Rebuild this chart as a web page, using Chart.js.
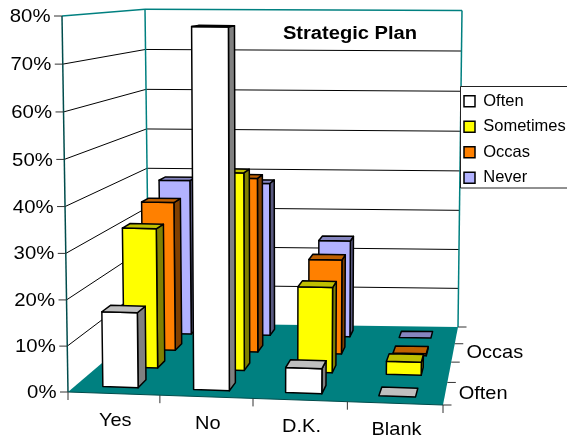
<!DOCTYPE html>
<html>
<head>
<meta charset="utf-8">
<style>html,body{margin:0;padding:0;background:#fff}canvas{display:block}</style>
<script src="https://cdn.jsdelivr.net/npm/chart.js@4/dist/chart.umd.min.js"></script>
</head>
<body>
<canvas id="c" width="567" height="440"></canvas>
<script>
// Responses to the "Strategic Plan" question, percent per answer and frequency.
const answers = ['Yes', 'No', 'D.K.', 'Blank'];
const frequencies = ['Often', 'Sometimes', 'Occas', 'Never'];
const often = [16.5, 78, 5.5, 0];
const sometimes = [32, 45, 19.5, 3];
const occas = [35.5, 41.5, 22.5, 0.5];
const never = [38.5, 38, 24, 0];
const seriesValues = [often, sometimes, occas, never];

const chartTitle = 'Strategic Plan';
const FONT = '"Liberation Sans", Arial, sans-serif';
const TEAL = '#008080';

// Face shades per series: front, top, right side.
const shades = [
  ['#ffffff', '#bfbfbf', '#808080'],
  ['#ffff00', '#bfbf00', '#808000'],
  ['#ff8000', '#bf6000', '#804000'],
  ['#b2b2ff', '#8585bf', '#595980']
];
const BAR_FRACTION = 0.39;

// Floor corners in canvas pixels: front-left, front-right, back-right, back-left.
const floorCorners = [[68, 392], [443, 405], [458, 327], [149, 323]];
// Screen offset from floor to the 80% level above each floor corner.
const riseAtCorner = [[-6, -376], [6, -384], [4, -316.5], [-4, -313.7]];
const DEPTH_WEIGHT = 1.22;
const WIDTH_WEIGHT = 1.027;
const HEIGHT_PERSPECTIVE = -0.027;

function lerp(a, b, t) { return a + (b - a) * t; }

// u runs along the answers, d into the depth, z up the value axis; all are 0..1.
function project(u, d, z) {
  const t = z * (1 + HEIGHT_PERSPECTIVE) / (1 + HEIGHT_PERSPECTIVE * z);
  const back = (1 - 1 / (1 + (DEPTH_WEIGHT - 1) * d)) / (1 - 1 / DEPTH_WEIGHT);
  const along = u / (u + (1 - u) * WIDTH_WEIGHT);
  const [fl, fr, br, bl] = floorCorners;
  const [rfl, rfr, rbr, rbl] = riseAtCorner;
  return [0, 1].map(k => {
    const base = lerp(lerp(fl[k], fr[k], along), lerp(bl[k], br[k], along), back);
    const rise = lerp(lerp(rfl[k], rfr[k], along), lerp(rbl[k], rbr[k], along), back);
    return base + rise * t;
  });
}

function poly(ctx, pts, fill, stroke, lw) {
  ctx.beginPath();
  pts.forEach((p, i) => i ? ctx.lineTo(p[0], p[1]) : ctx.moveTo(p[0], p[1]));
  ctx.closePath();
  if (fill) { ctx.fillStyle = fill; ctx.fill(); }
  if (stroke) { ctx.strokeStyle = stroke; ctx.lineWidth = lw; ctx.stroke(); }
}
function line(ctx, a, b, color, lw) {
  ctx.beginPath();
  ctx.moveTo(a[0], a[1]);
  ctx.lineTo(b[0], b[1]);
  ctx.strokeStyle = color;
  ctx.lineWidth = lw;
  ctx.stroke();
}
function label(ctx, text, x, y, font, align, stretch) {
  ctx.save();
  ctx.translate(x, y);
  ctx.scale(stretch, 1);
  ctx.font = font;
  ctx.fillStyle = '#000';
  ctx.textAlign = align;
  ctx.textBaseline = 'middle';
  ctx.fillText(text, 0, 0);
  ctx.restore();
}

const box3d = {
  id: 'box3d',
  // The legend sits over the right wall, in its own framed box.
  afterLayout(chart) {
    const l = chart.legend;
    l.left = 455; l.top = 84; l.right = 567; l.bottom = 195;
    l.width = l.right - l.left; l.height = l.bottom - l.top;
  },
  beforeDatasetsDraw(chart) {
    const { ctx, chartArea: area, scales } = chart;
    const { x: xs, y: ys, depth } = scales;
    const U = px => (px - area.left) / area.width;
    const Z = px => (area.bottom - px) / area.height;
    const D = px => (px - area.top) / area.height;
    const cellU = 1 / answers.length, cellD = 1 / frequencies.length;

    ctx.save();
    ctx.lineJoin = 'round';

    // Floor
    poly(ctx, [project(0, 0, 0), project(1, 0, 0), project(1, 1, 0), project(0, 1, 0)], TEAL);

    // Gridlines across the left and back walls
    ys.ticks.forEach(t => {
      const z = Z(ys.getPixelForValue(t.value));
      if (z > 0 && z < 1) {
        line(ctx, project(0, 0, z), project(0, 1, z), '#000', 1);
        line(ctx, project(0, 1, z), project(1, 1, z), '#000', 1);
      }
    });

    // Wall edges
    line(ctx, project(0, 0, 1), project(0, 1, 1), TEAL, 1.5);
    line(ctx, project(0, 1, 1), project(1, 1, 1), TEAL, 1.5);
    line(ctx, project(0, 1, 0), project(0, 1, 1), TEAL, 1.5);
    line(ctx, project(1, 1, 0), project(1, 1, 1), TEAL, 1.5);
    line(ctx, project(0, 0, 0), project(0, 0, 1), '#004c4c', 1.5);
    line(ctx, project(0, 0, 0), project(1, 0, 0), '#004c4c', 1.2);

    // Value axis ticks and labels
    ys.ticks.forEach(t => {
      const p = project(0, 0, Z(ys.getPixelForValue(t.value)));
      line(ctx, [p[0] - 8, p[1]], p, '#333', 1);
      label(ctx, t.label, p[0] - 11.5, p[1] + 1, '18.5px ' + FONT, 'right', 1.1);
    });

    // Answer axis ticks and labels
    for (let i = 0; i <= answers.length; i++) {
      const p = project(i * cellU, 0, 0);
      line(ctx, p, [p[0], p[1] + 8], '#333', 1);
    }
    xs.ticks.forEach((t, i) => {
      const p = project(U(xs.getPixelForValue(i)), 0, 0);
      label(ctx, t.label, p[0] + 1.5, p[1] + 27, '18.5px ' + FONT, 'center', 1.08);
    });

    // Depth axis ticks, with every other frequency named
    for (let i = 0; i <= frequencies.length; i++) {
      const p = project(1, i * cellD, 0);
      line(ctx, p, [p[0] + 8.5, p[1]], '#333', 1);
    }
    depth.ticks.forEach((t, i) => {
      if (i % 2) return;
      const p = project(1, D(depth.getPixelForValue(i)), 0);
      label(ctx, t.label, p[0] + 13.5, p[1], '18.5px ' + FONT, 'left', 1.08);
    });

    // Bars, back row first so the nearer rows overlap them
    for (let s = seriesValues.length - 1; s >= 0; s--) {
      const [front, top, side] = shades[s];
      const dc = D(depth.getPixelForValue(s));
      chart.getDatasetMeta(s).data.forEach(bar => {
        const halfU = bar.width / 2 / area.width;
        const halfD = BAR_FRACTION * cellD / 2;
        const uc = U(bar.x), z = Z(bar.y);
        const u0 = uc - halfU, u1 = uc + halfU, d0 = dc - halfD, d1 = dc + halfD;
        if (z > 0) {
          poly(ctx, [project(u1, d0, 0), project(u1, d1, 0), project(u1, d1, z), project(u1, d0, z)], side, '#000', 1.5);
          poly(ctx, [project(u0, d0, 0), project(u1, d0, 0), project(u1, d0, z), project(u0, d0, z)], front, '#000', 1.5);
        }
        poly(ctx, [project(u0, d0, z), project(u1, d0, z), project(u1, d1, z), project(u0, d1, z)], top, '#000', 1.5);
      });
    }

    label(ctx, chartTitle, 350, 34, 'bold 17.5px ' + FONT, 'center', 1.15);

    // Legend frame, then the legend's own entries over it
    ctx.fillStyle = '#fff';
    ctx.fillRect(460.5, 86.5, 107, 101.5);
    ctx.strokeStyle = '#222';
    ctx.lineWidth = 1;
    ctx.strokeRect(460.5, 86.5, 107, 101.5);
    ctx.restore();
    chart.legend.draw();
    return false;
  }
};

new Chart(document.getElementById('c'), {
  type: 'bar',
  data: {
    labels: answers,
    datasets: frequencies.map((name, i) => ({
      label: name,
      data: seriesValues[i],
      backgroundColor: shades[i][0],
      borderColor: '#000',
      borderWidth: 1.5
    }))
  },
  options: {
    responsive: false,
    animation: false,
    events: [],
    layout: { padding: { left: 68, right: 124, top: 16, bottom: 48 } },
    datasets: { bar: { grouped: false, categoryPercentage: 1, barPercentage: BAR_FRACTION } },
    scales: {
      x: { display: false, offset: true },
      y: {
        display: false, min: 0, max: 80,
        ticks: { stepSize: 10, callback: v => v + '%' }
      },
      depth: {
        type: 'category', axis: 'y', position: 'right', display: false,
        offset: true, labels: frequencies, ticks: { autoSkip: false }
      }
    },
    plugins: {
      tooltip: { enabled: false },
      title: { display: false },
      legend: {
        position: 'chartArea',
        align: 'start',
        labels: {
          boxWidth: 11, boxHeight: 11, padding: 9, color: '#000',
          font: { family: FONT, size: 16.5 }
        }
      }
    }
  },
  plugins: [box3d]
});
</script>
</body>
</html>
